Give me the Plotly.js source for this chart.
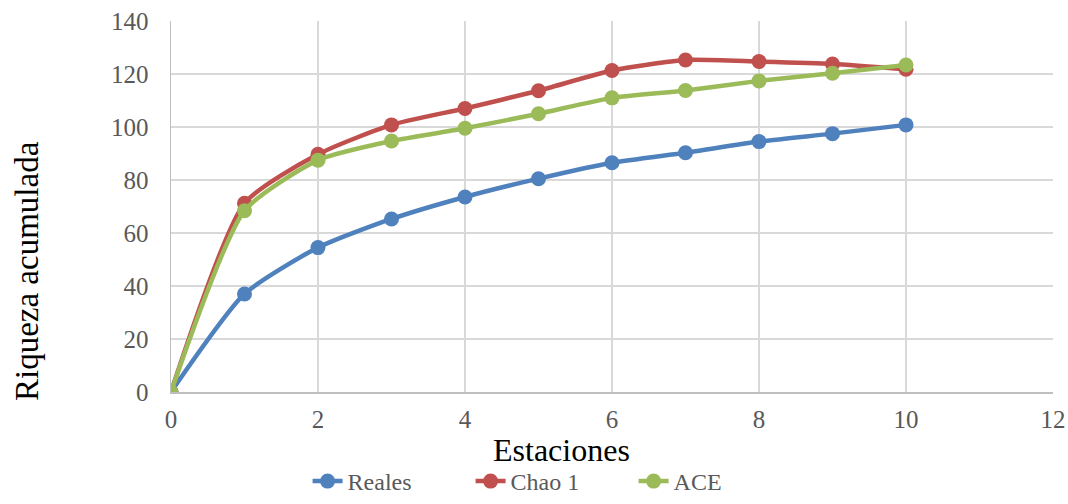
<!DOCTYPE html>
<html><head><meta charset="utf-8">
<script src="https://cdn.plot.ly/plotly-3.0.1.min.js"></script>
<style>body{margin:0;background:#fff}#chart{width:1068px;height:504px}</style>
</head><body><div id="chart"></div>
<script>
const estaciones = [0,1,2,3,4,5,6,7,8,9,10];
const reales = [0,37,54.5,65.3,73.6,80.5,86.5,90.3,94.5,97.5,100.8];
const chao1  = [0,71.2,89.7,100.8,107,113.7,121.3,125.3,124.7,123.8,121.8];
const ace    = [0,68.4,87.5,94.7,99.5,105,111,113.8,117.4,120.3,123.4];
const names = ['Reales','Chao 1','ACE'];
const colors = ['#4F81BD','#C0504D','#9BBB59'];
const xTitle = 'Estaciones';
const yTitle = 'Riqueza acumulada';
const series = [reales, chao1, ace];
const traces = series.map((s,i)=>({
  x: estaciones, y: s, name: names[i], type:'scatter', mode:'lines+markers',
  line:{color:colors[i], width:4.5, shape:'spline', smoothing:0.6},
  marker:{color:colors[i], size:15}
}));
const serif = 'Liberation Serif, DejaVu Serif, serif';
const layout = {
  width:1068, height:504,
  margin:{l:171, r:15, t:21, b:112},
  paper_bgcolor:'#fff', plot_bgcolor:'#fff',
  showlegend:true,
  legend:{orientation:'h', x:0.288, xref:'container', xanchor:'left', y:0, yref:'container', yanchor:'bottom',
    font:{family:serif, size:24, color:'#595959'}, entrywidth:118, entrywidthmode:'pixels', tracegroupgap:0},
  xaxis:{range:[0,12], dtick:2, tick0:0, showgrid:true, gridcolor:'#D9D9D9', gridwidth:1.5,
    showline:true, linecolor:'#BFBFBF', linewidth:1.5, zeroline:false, ticks:'',
    tickfont:{family:serif, size:25, color:'#595959'}, ticklabelstandoff:4},
  yaxis:{range:[0,140], dtick:20, tick0:0, showgrid:true, gridcolor:'#D9D9D9', gridwidth:1.5,
    showline:true, linecolor:'#BFBFBF', linewidth:1.5, zeroline:false, ticks:'',
    tickfont:{family:serif, size:25, color:'#595959'}, ticklabelstandoff:16},
  annotations:[
    {text:xTitle, xref:'paper', yref:'paper', x:(561-171)/882, y:-(450-392)/371, xanchor:'center', yanchor:'middle',
     showarrow:false, font:{family:serif, size:32, color:'#000'}},
    {text:yTitle, xref:'paper', yref:'paper', x:-(171-27)/882, y:(392-271)/371, xanchor:'center', yanchor:'middle',
     textangle:-90, showarrow:false, font:{family:serif, size:33, color:'#000'}}
  ]
};
Plotly.newPlot('chart', traces, layout, {displayModeBar:false, staticPlot:true});
</script></body></html>
